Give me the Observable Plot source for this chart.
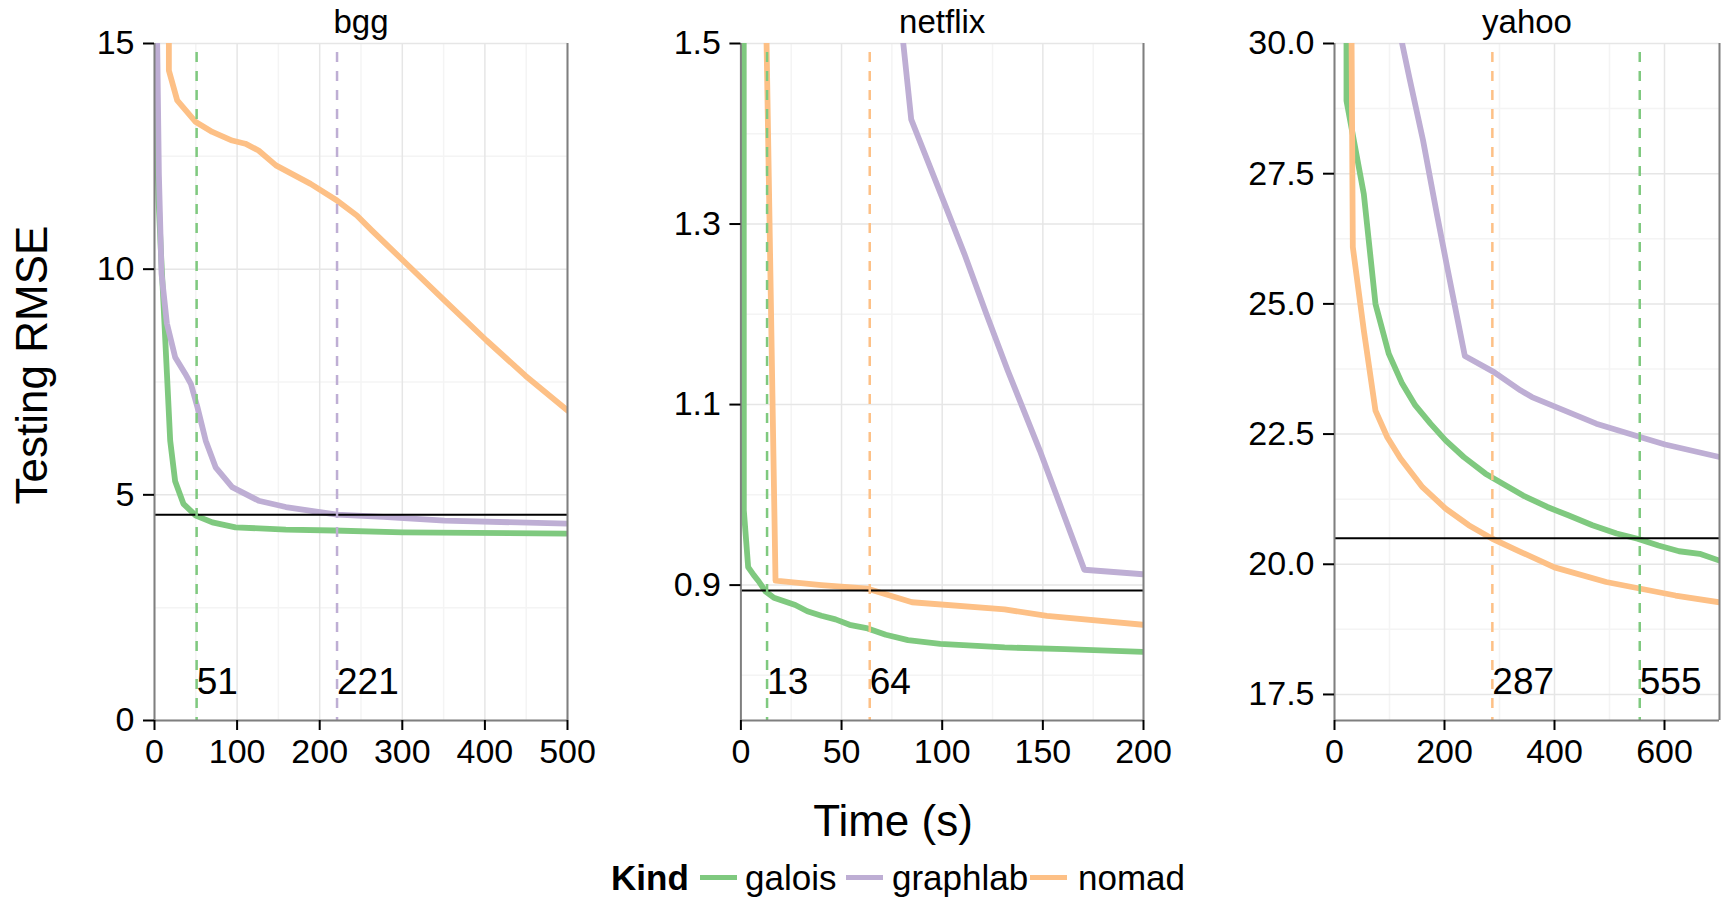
<!DOCTYPE html>
<html>
<head>
<meta charset="utf-8">
<script src="https://cdn.jsdelivr.net/npm/d3@7"></script>
<script src="https://cdn.jsdelivr.net/npm/@observablehq/plot@0.6"></script>
<style>
  body { margin: 0; background: white; font-family: "Liberation Sans", Arial, Helvetica, sans-serif; }
  #root { position: relative; width: 1723px; height: 898px; overflow: hidden; background: white; }
  .abs { position: absolute; line-height: 1; white-space: nowrap; color: black; }
  .panel { position: absolute; top: 0; }
  .panel svg { background: transparent !important; max-width: none !important; overflow: visible; }
</style>
</head>
<body>
<div id="root"></div>
<script>
// ---------- data ----------
const kinds = ["galois", "graphlab", "nomad"];
const kindColors = ["#7fc97f", "#beaed4", "#fdc086"];
const datasets = ["bgg", "netflix", "yahoo"];

// [time (s), testing RMSE]
const bggGalois = [[0,18],[2,13.3],[5,11.5],[8,10.3],[11,9.2],[15,7.7],[19,6.2],[25,5.3],[35,4.8],[50,4.54],[70,4.39],[98,4.28],[159,4.23],[217,4.21],[300,4.17],[500,4.14]];
const bggGraphlab = [[2,17],[3.2,15.07],[5.3,12.1],[8.5,9.9],[15,8.8],[25,8.05],[37,7.69],[44,7.46],[52,6.94],[62,6.2],[74,5.61],[94,5.17],[126,4.87],[159,4.73],[221,4.56],[277,4.51],[351,4.43],[500,4.36]];
const bggNomad = [[17.4,16],[17.4,14.4],[27.5,13.74],[50,13.26],[70,13.04],[94,12.85],[110,12.78],[126,12.63],[147,12.3],[189,11.89],[221,11.52],[245,11.19],[263,10.86],[305,10.12],[351,9.31],[402,8.42],[449,7.64],[500,6.87]];

const netflixGalois = [[1.4,1.6],[1.45,0.983],[3.6,0.92],[6.4,0.911],[8.9,0.904],[12.2,0.893],[16.4,0.886],[27,0.878],[33,0.871],[40,0.866],[47,0.862],[54,0.856],[63,0.852],[72,0.845],[83,0.839],[99,0.835],[131,0.831],[161,0.829],[200,0.826]];
const netflixGraphlab = [[76,1.6],[84.6,1.416],[100.6,1.326],[111,1.267],[122,1.2],[132.5,1.138],[148.5,1.049],[170.6,0.917],[200,0.912]];
const netflixNomad = [[12,1.6],[17.2,0.905],[40,0.9],[63,0.896],[85,0.881],[131,0.873],[152,0.866],[200,0.856]];

const yahooGalois = [[21.8,31],[21.8,28.9],[53.3,27.11],[74.5,25.0],[98.8,24.04],[123,23.47],[147,23.05],[174.5,22.7],[202,22.38],[235,22.06],[274.5,21.74],[343,21.32],[387,21.1],[425,20.94],[469,20.75],[513,20.59],[551,20.49],[589,20.36],[626.5,20.25],[664,20.2],[700,20.07]];
const yahooGraphlab = [[104,31],[123,30.0],[136,29.35],[161,28.14],[186,26.73],[205,25.7],[223,24.74],[237,24.0],[290,23.69],[338,23.34],[359,23.21],[476,22.7],[557,22.44],[601,22.3],[700,22.06]];
const yahooNomad = [[30.5,31],[33.3,26.09],[53.3,24.49],[74.5,22.95],[96,22.44],[120,22.03],[160,21.48],[202,21.07],[244,20.75],[287,20.49],[338,20.24],[400,19.94],[494,19.66],[557,19.53],[620,19.4],[700,19.27]];

// target RMSE (black line) per dataset
const thresholds = [4.56, 0.894, 20.5];
// time at which each kind reaches the target
const bggCross = [["galois", 51], ["graphlab", 221]];
const netflixCross = [["galois", 13], ["nomad", 64]];
const yahooCross = [["nomad", 287], ["galois", 555]];

// axis ticks
const bggXTicks = [0,100,200,300,400,500];
const bggYTicks = [0,5,10,15];
const netflixXTicks = [0,50,100,150,200];
const netflixYTicks = [0.9,1.1,1.3,1.5];
const yahooXTicks = [0,200,400,600];
const yahooYTicks = [17.5,20,22.5,25,27.5,30];

// ---------- layout ----------
const FONT = '"Liberation Sans", Arial, Helvetica, sans-serif';
const TICK_FS = 34;
const panels = [
  { name: datasets[0], series: [bggGalois, bggGraphlab, bggNomad], cross: bggCross, threshold: thresholds[0],
    xDomain: [0,500], yDomain: [0,15], xTicks: bggXTicks, yTicks: bggYTicks,
    xMinor: [50,150,250,350,450], yMinor: [2.5,7.5,12.5], fmt: d3.format("d"),
    left: 0, width: 600, ml: 154, mr: 33 },
  { name: datasets[1], series: [netflixGalois, netflixGraphlab, netflixNomad], cross: netflixCross, threshold: thresholds[1],
    xDomain: [0,200], yDomain: [0.75,1.5], xTicks: netflixXTicks, yTicks: netflixYTicks,
    xMinor: [25,75,125,175], yMinor: [0.8,1.0,1.2,1.4], fmt: d3.format(".1f"),
    left: 600, width: 590, ml: 140.4, mr: 47 },
  { name: datasets[2], series: [yahooGalois, yahooGraphlab, yahooNomad], cross: yahooCross, threshold: thresholds[2],
    xDomain: [0,700], yDomain: [17,30], xTicks: yahooXTicks, yTicks: yahooYTicks,
    xMinor: [100,300,500,700], yMinor: [18.75,21.25,23.75,26.25,28.75], fmt: d3.format(".1f"),
    left: 1190, width: 533, ml: 144, mr: 4 }
];

const root = document.getElementById("root");
const colorOf = k => kindColors[kinds.indexOf(k)];

for (const p of panels) {
  const rows = [];
  p.series.forEach((s, i) => s.forEach(([t, v]) => rows.push({kind: kinds[i], t, v})));
  const cross = p.cross.map(([kind, time]) => ({kind, time}));

  const chart = Plot.plot({
    width: p.width,
    height: 800,
    marginLeft: p.ml,
    marginRight: p.mr,
    marginTop: 43,
    marginBottom: 80,
    style: {fontFamily: FONT, fontSize: TICK_FS + "px", background: "transparent", overflow: "visible"},
    x: {domain: p.xDomain, label: null},
    y: {domain: p.yDomain, label: null},
    color: {domain: kinds, range: kindColors},
    marks: [
      Plot.gridX(p.xMinor, {stroke: "#f4f4f4", strokeOpacity: 1, strokeWidth: 1.5}),
      Plot.gridY(p.yMinor, {stroke: "#f4f4f4", strokeOpacity: 1, strokeWidth: 1.5}),
      Plot.gridX(p.xTicks, {stroke: "#e6e6e6", strokeOpacity: 1, strokeWidth: 1.5}),
      Plot.gridY(p.yTicks, {stroke: "#e6e6e6", strokeOpacity: 1, strokeWidth: 1.5}),
      Plot.line(rows, {x: "t", y: "v", z: "kind", stroke: "kind", strokeWidth: 5.8, clip: true, curve: "linear"}),
      Plot.ruleY([p.threshold], {stroke: "black", strokeWidth: 2}),
      Plot.ruleX(cross, {x: "time", stroke: d => colorOf(d.kind), strokeWidth: 2.5, strokeDasharray: "10,9", strokeDashoffset: 10}),
      Plot.text(cross, {x: "time", text: d => String(d.time), frameAnchor: "bottom", textAnchor: "start", lineAnchor: "middle", dy: -38, fontSize: 37, fill: "black"}),
      Plot.ruleX([p.xDomain[0], p.xDomain[1]], {stroke: "#7f7f7f", strokeWidth: 2}),
      Plot.ruleY([p.yDomain[0]], {stroke: "#7f7f7f", strokeWidth: 2}),
      Plot.axisX({ticks: p.xTicks, tickSize: 10, tickPadding: 8, fontSize: TICK_FS, stroke: "black", strokeWidth: 2, label: null, tickFormat: d3.format("d")}),
      Plot.axisY({ticks: p.yTicks, tickSize: 11, tickPadding: 9, fontSize: TICK_FS, stroke: "black", strokeWidth: 2, label: null, tickFormat: p.fmt}),
      Plot.text([p.name], {frameAnchor: "top", text: d => d, lineAnchor: "middle", dy: -21, fontSize: 33, fill: "black"})
    ]
  });
  const wrap = document.createElement("div");
  wrap.className = "panel";
  wrap.style.left = p.left + "px";
  wrap.style.width = p.width + "px";
  wrap.appendChild(chart);
  root.appendChild(wrap);
}

function addText(txt, x, y, size, opts = {}) {
  const d = document.createElement("div");
  d.className = "abs";
  d.textContent = txt;
  d.style.fontSize = size + "px";
  d.style.left = x + "px";
  d.style.top = y + "px";
  d.style.transform = opts.transform || "translate(0,-50%)";
  if (opts.bold) d.style.fontWeight = "bold";
  root.appendChild(d);
  return d;
}
function addKey(color, x, y, w) {
  const d = document.createElement("div");
  d.style.position = "absolute";
  d.style.left = x + "px";
  d.style.top = (y - 2.5) + "px";
  d.style.width = w + "px";
  d.style.height = "5px";
  d.style.background = color;
  root.appendChild(d);
}

// axis titles
addText("Testing RMSE", 32, 365, 44, {transform: "translate(-50%,-50%) rotate(-90deg)"});
addText("Time (s)", 893, 821, 44, {transform: "translate(-50%,-50%)"});

// legend
addText("Kind", 611, 877, 35, {bold: true});
const keyX = [700, 846, 1030];
const labelX = [745, 892, 1078];
kinds.forEach((k, i) => {
  addKey(kindColors[i], keyX[i], 877, 37);
  addText(k, labelX[i], 877, 35);
});
</script>
</body>
</html>
